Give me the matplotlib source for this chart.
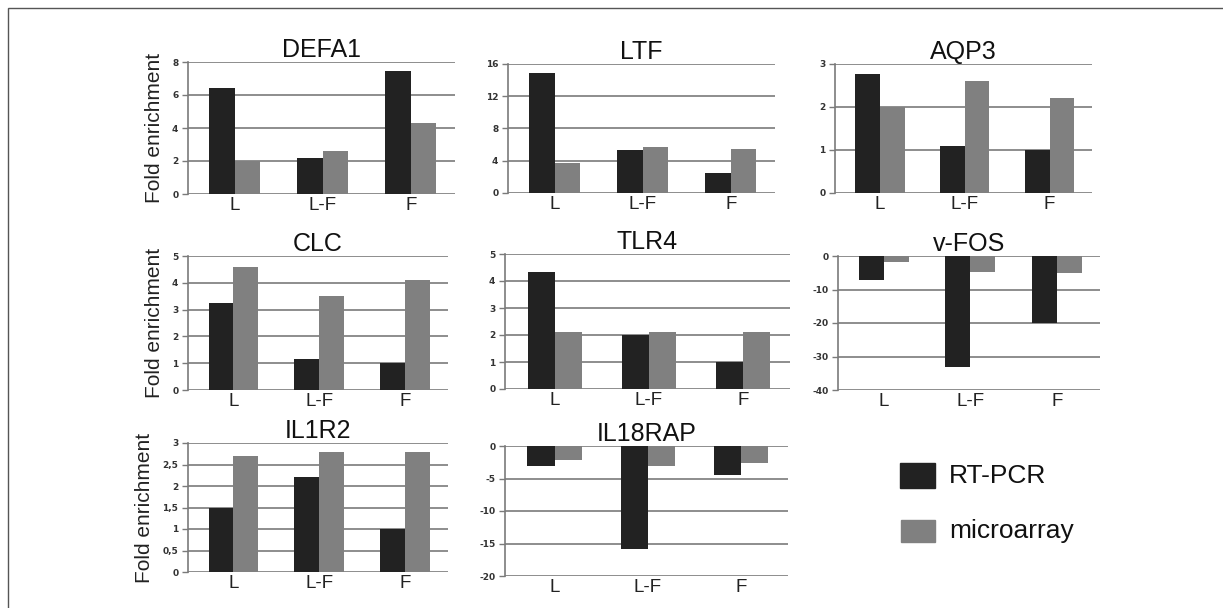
import matplotlib.pyplot as plt
import numpy as np

plt.rcParams['font.family'] = ['Liberation Sans', 'DejaVu Sans']

groups = ["L", "L-F", "F"]

genes = ["DEFA1", "LTF", "AQP3", "CLC", "TLR4", "v-FOS", "IL1R2", "IL18RAP"]
rt_pcr = {
    "DEFA1": [6.45, 2.2, 7.45],
    "LTF": [14.85, 5.35, 2.5],
    "AQP3": [2.77, 1.1, 1.0],
    "CLC": [3.23, 1.15, 1.0],
    "TLR4": [4.35, 2.0, 1.0],
    "v-FOS": [-7.3, -33.0, -20.1],
    "IL1R2": [1.5, 2.2, 1.0],
    "IL18RAP": [-3.0, -15.9, -4.45],
}
microarray = {
    "DEFA1": [2.0, 2.6, 4.3],
    "LTF": [3.7, 5.75, 5.45],
    "AQP3": [2.0, 2.6, 2.2],
    "CLC": [4.6, 3.5, 4.1],
    "TLR4": [2.1, 2.1, 2.1],
    "v-FOS": [-1.9, -4.8, -5.1],
    "IL1R2": [2.7, 2.78, 2.78],
    "IL18RAP": [-2.2, -3.0, -2.6],
}
yticks = {
    "DEFA1": [0, 2, 4, 6, 8],
    "LTF": [0, 4, 8, 12, 16],
    "AQP3": [0, 1, 2, 3],
    "CLC": [0, 1, 2, 3, 4, 5],
    "TLR4": [0, 1, 2, 3, 4, 5],
    "v-FOS": [-40, -30, -20, -10, 0],
    "IL1R2": [0, 0.5, 1, 1.5, 2, 2.5, 3],
    "IL18RAP": [-20, -15, -10, -5, 0],
}

# axes boxes in pixels: left, right, top, bottom
boxes = {
    "DEFA1": (188, 455, 62, 194),
    "LTF": (508, 775, 64, 193),
    "AQP3": (835, 1092, 64, 193),
    "CLC": (188, 448, 256, 390),
    "TLR4": (505, 790, 254, 389),
    "v-FOS": (838, 1100, 256, 390),
    "IL1R2": (188, 448, 443, 572),
    "IL18RAP": (505, 788, 446, 576),
}

W, H = 1223, 608
fig = plt.figure(figsize=(W / 100, H / 100), dpi=100)

dark = "#222222"
light = "#808080"
grid_c = "#7a7a7a"
x = np.arange(len(groups))
bw = 0.29

for g in genes:
    l, r, t, b = boxes[g]
    ax = fig.add_axes([l / W, 1 - b / H, (r - l) / W, (b - t) / H])
    ax.bar(x - bw / 2, rt_pcr[g], bw, color=dark, zorder=3)
    ax.bar(x + bw / 2, microarray[g], bw, color=light, zorder=3)
    ticks = yticks[g]
    ax.set_ylim(ticks[0], ticks[-1])
    ax.set_yticks(ticks)
    ax.set_yticklabels([str(v).replace(".", ",") for v in ticks],
                       fontsize=6.5, fontweight="bold", color="#333333",
                       family="DejaVu Sans")
    ax.set_xlim(-0.53, 2.5)
    ax.set_xticks(x)
    ax.set_xticklabels(groups, fontsize=13.5, color="#222222")
    ax.tick_params(axis="x", length=0, pad=2)
    ax.tick_params(axis="y", length=4, width=1, color=grid_c, pad=3)
    for tv in ticks:
        ax.axhline(tv, color=grid_c, lw=1.2, zorder=1)
    for s in ["top", "right", "bottom"]:
        ax.spines[s].set_visible(False)
    ax.spines["left"].set_color(grid_c)
    ax.spines["left"].set_linewidth(1.2)
    ax.set_title(g, fontsize=18, pad=2, color="#111111")
    if l < 200:
        ax.set_ylabel("Fold enrichment", fontsize=15, color="#222222", labelpad=6)

# legend
fig.patches.append(plt.Rectangle((900 / W, 1 - 488 / H), 35 / W, 25 / H,
                                 transform=fig.transFigure, color=dark))
fig.patches.append(plt.Rectangle((901 / W, 1 - 542 / H), 34 / W, 22 / H,
                                 transform=fig.transFigure, color=light))
fig.text(949 / W, 1 - 476 / H, "RT-PCR", fontsize=19, va="center", color="#111111")
fig.text(949 / W, 1 - 531 / H, "microarray", fontsize=19, va="center", color="#111111")

# outer frame
fig.patches.append(plt.Rectangle((8 / W, -0.1), 1.2, 1.1 - 8 / H, fill=False,
                                 transform=fig.transFigure, ec="#555555", lw=1))

fig.savefig("out.png", dpi=100)
